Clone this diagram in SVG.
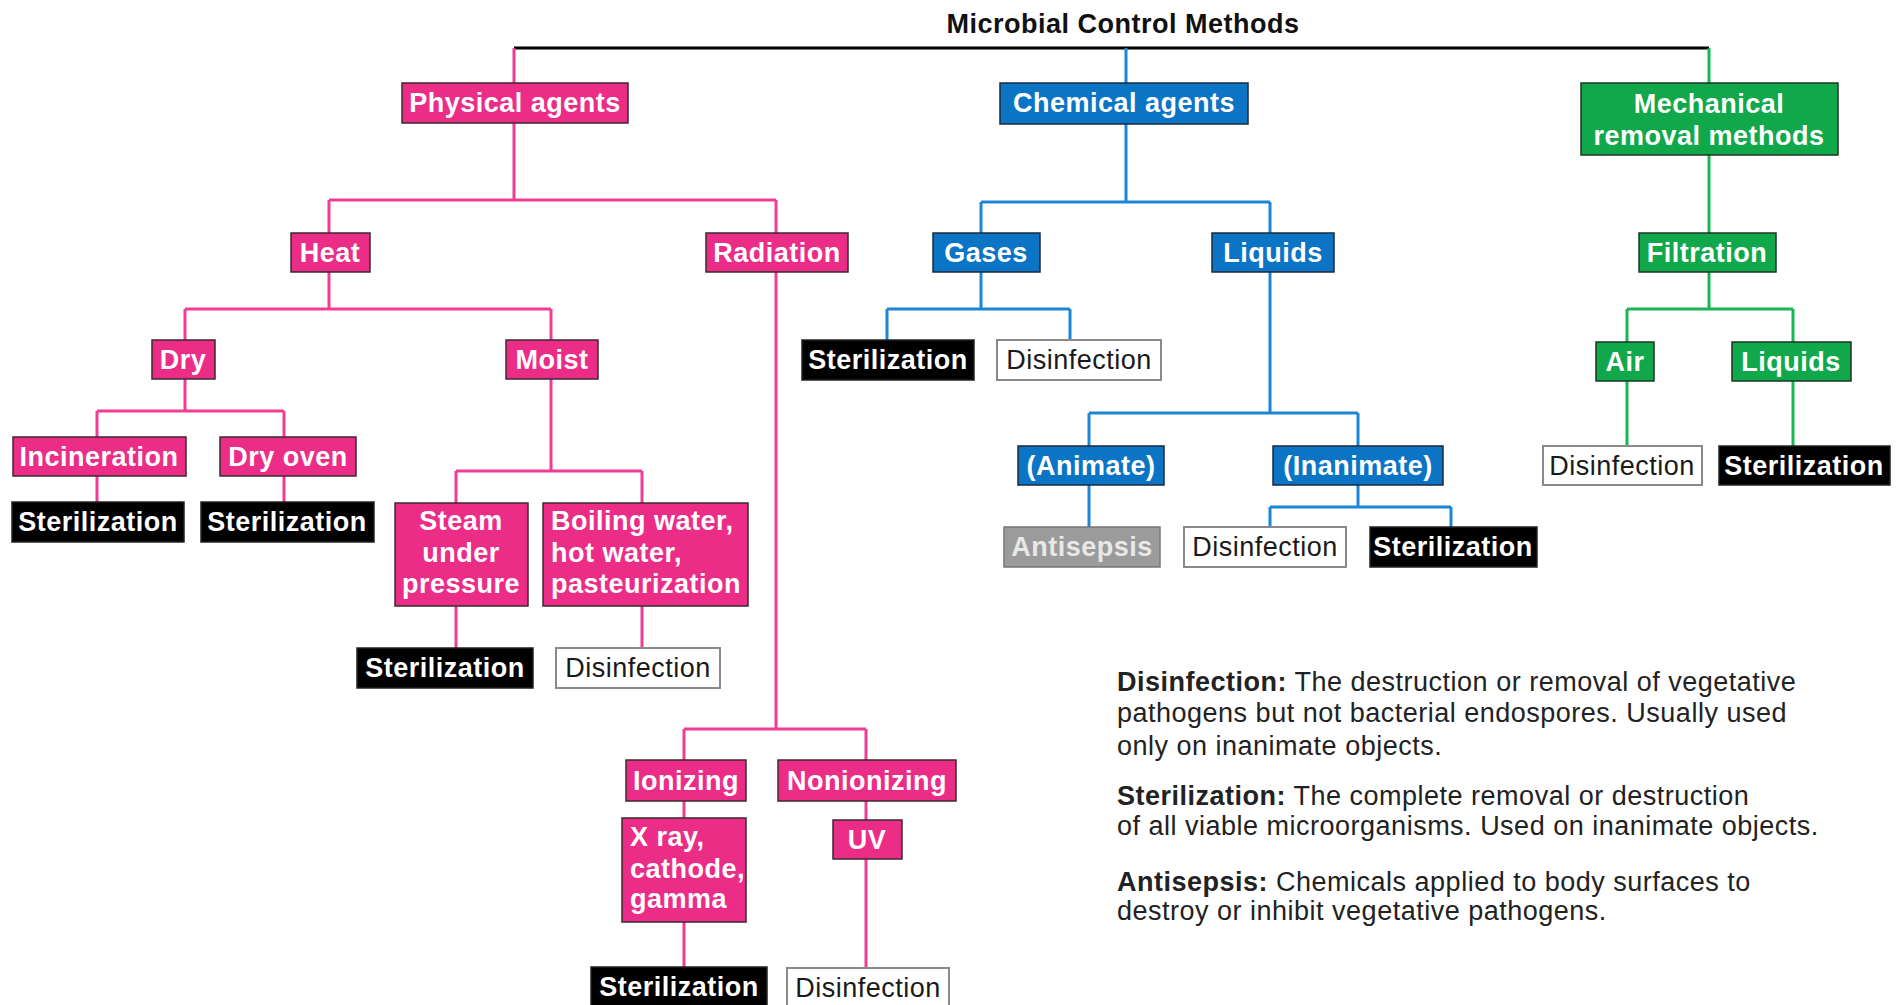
<svg xmlns="http://www.w3.org/2000/svg" width="1902" height="1005" viewBox="0 0 1902 1005">
<style>
text{font-family:"Liberation Sans",Arial,Helvetica,sans-serif;font-size:27px;letter-spacing:0.5px}
.b{font-weight:bold;fill:#fff;text-anchor:middle}
.l{text-anchor:start}
.pk{fill:#EC2D87;stroke:#3a2a30;stroke-width:1.5}
.bl{fill:#0B74C5;stroke:#1d2a3a;stroke-width:1.5}
.gr{fill:#10A84B;stroke:#1c3324;stroke-width:1.5}
.st{fill:#000;stroke:#222;stroke-width:1.5}
.df{fill:#fff;stroke:#8a8a8a;stroke-width:2}
.as{fill:#9B9B9B;stroke:#777;stroke-width:1.5}
.dt{fill:#1a1a1a;text-anchor:middle;font-weight:normal}
.cp{fill:none;stroke:#F03C93;stroke-width:3}
.cb{fill:none;stroke:#1C86D6;stroke-width:3}
.cg{fill:none;stroke:#19B552;stroke-width:3}
.ck{fill:none;stroke:#000;stroke-width:3}
.lg{fill:#222}
.lg tspan.h{font-weight:bold}
</style>
<rect width="1902" height="1005" fill="#fff"/>
<text x="1123" y="33" class="b" style="fill:#111">Microbial Control Methods</text>

<g id="connectors">
<path class="ck" d="M514,48 H1709"/>
<path class="cp" d="M514,48 V83 M514,123 V200 M329,200 H776 M329,200 V233 M776,200 V233 M329,272 V309 M185,309 H551 M185,309 V340 M551,309 V340 M185,379 V411 M97,411 H284 M97,411 V437 M284,411 V437 M97,476 V502 M284,476 V502 M551,379 V471 M456,471 H642 M456,471 V503 M642,471 V503 M456,606 V648 M642,606 V648 M776,272 V729 M684,729 H866 M684,729 V760 M866,729 V760 M684,801 V818 M684,922 V967 M866,801 V820 M866,859 V968"/>
<path class="cb" d="M1126,48 V83 M1126,124 V202 M981,202 H1270 M981,202 V233 M1270,202 V233 M981,272 V309 M887,309 H1070 M887,309 V340 M1070,309 V340 M1270,272 V413 M1089,413 H1358 M1089,413 V446 M1358,413 V446 M1089,485 V527 M1358,485 V507 M1270,507 H1451 M1270,507 V527 M1451,507 V527"/>
<path class="cg" d="M1709,48 V83 M1709,155 V233 M1709,272 V309 M1627,309 H1793 M1627,309 V342 M1793,309 V342 M1627,381 V446 M1793,381 V446"/>
</g>

<g id="physical"><rect class="pk" x="402" y="83" width="226" height="40"/><text class="b" x="515" y="112">Physical agents</text></g>
<g id="chemical"><rect class="bl" x="1000" y="83" width="248" height="41"/><text class="b" x="1124" y="112">Chemical agents</text></g>
<g id="mechanical"><rect class="gr" x="1581" y="83" width="257" height="72"/><text class="b" x="1709" y="113">Mechanical</text><text class="b" x="1709" y="145">removal methods</text></g>

<g id="heat"><rect class="pk" x="291" y="233" width="79" height="39"/><text class="b" x="330" y="262">Heat</text></g>
<g id="radiation"><rect class="pk" x="706" y="233" width="142" height="39"/><text class="b" x="777" y="262">Radiation</text></g>
<g id="gases"><rect class="bl" x="933" y="233" width="107" height="39"/><text class="b" x="986" y="262">Gases</text></g>
<g id="liquids-chem"><rect class="bl" x="1212" y="233" width="122" height="39"/><text class="b" x="1273" y="262">Liquids</text></g>
<g id="filtration"><rect class="gr" x="1639" y="233" width="137" height="39"/><text class="b" x="1707" y="262">Filtration</text></g>

<g id="dry"><rect class="pk" x="152" y="340" width="63" height="39"/><text class="b" x="183" y="369">Dry</text></g>
<g id="moist"><rect class="pk" x="506" y="340" width="92" height="39"/><text class="b" x="552" y="369">Moist</text></g>
<g id="gas-steril"><rect class="st" x="802" y="340" width="172" height="40"/><text class="b" x="888" y="369">Sterilization</text></g>
<g id="gas-disinf"><rect class="df" x="997" y="340" width="164" height="40"/><text class="dt" x="1079" y="369">Disinfection</text></g>
<g id="air"><rect class="gr" x="1596" y="342" width="58" height="39"/><text class="b" x="1625" y="371">Air</text></g>
<g id="liquids-filt"><rect class="gr" x="1732" y="342" width="119" height="39"/><text class="b" x="1791" y="371">Liquids</text></g>

<g id="incineration"><rect class="pk" x="13" y="437" width="173" height="39"/><text class="b" x="99" y="466">Incineration</text></g>
<g id="dry-oven"><rect class="pk" x="220" y="437" width="136" height="39"/><text class="b" x="288" y="466">Dry oven</text></g>
<g id="animate"><rect class="bl" x="1018" y="446" width="146" height="39"/><text class="b" x="1091" y="475">(Animate)</text></g>
<g id="inanimate"><rect class="bl" x="1273" y="446" width="170" height="39"/><text class="b" x="1358" y="475">(Inanimate)</text></g>
<g id="air-disinf"><rect class="df" x="1543" y="446" width="159" height="39"/><text class="dt" x="1622" y="475">Disinfection</text></g>
<g id="liq-steril"><rect class="st" x="1719" y="446" width="171" height="39"/><text class="b" x="1804" y="475">Sterilization</text></g>

<g id="incin-steril"><rect class="st" x="12" y="502" width="172" height="40"/><text class="b" x="98" y="531">Sterilization</text></g>
<g id="oven-steril"><rect class="st" x="201" y="502" width="173" height="40"/><text class="b" x="287" y="531">Sterilization</text></g>
<g id="steam"><rect class="pk" x="395" y="503" width="133" height="103"/><text class="b" x="461" y="530">Steam</text><text class="b" x="461" y="562">under</text><text class="b" x="461" y="593">pressure</text></g>
<g id="boiling"><rect class="pk" x="543" y="503" width="205" height="103"/><text class="b l" x="551" y="530">Boiling water,</text><text class="b l" x="551" y="562">hot water,</text><text class="b l" x="551" y="593">pasteurization</text></g>
<g id="antisepsis"><rect class="as" x="1004" y="527" width="156" height="40"/><text class="b" x="1082" y="556" style="fill:#e8e8e8">Antisepsis</text></g>
<g id="inan-disinf"><rect class="df" x="1184" y="527" width="162" height="40"/><text class="dt" x="1265" y="556">Disinfection</text></g>
<g id="inan-steril"><rect class="st" x="1370" y="527" width="167" height="40"/><text class="b" x="1453" y="556">Sterilization</text></g>

<g id="steam-steril"><rect class="st" x="357" y="648" width="176" height="40"/><text class="b" x="445" y="677">Sterilization</text></g>
<g id="boil-disinf"><rect class="df" x="556" y="648" width="164" height="40"/><text class="dt" x="638" y="677">Disinfection</text></g>

<g id="ionizing"><rect class="pk" x="626" y="760" width="120" height="41"/><text class="b" x="686" y="790">Ionizing</text></g>
<g id="nonionizing"><rect class="pk" x="778" y="760" width="178" height="41"/><text class="b" x="867" y="790">Nonionizing</text></g>
<g id="xray"><rect class="pk" x="622" y="818" width="124" height="104"/><text class="b l" x="630" y="846">X ray,</text><text class="b l" x="630" y="878">cathode,</text><text class="b l" x="630" y="908">gamma</text></g>
<g id="uv"><rect class="pk" x="833" y="820" width="69" height="39"/><text class="b" x="867" y="849">UV</text></g>
<g id="xray-steril"><rect class="st" x="591" y="967" width="176" height="42"/><text class="b" x="679" y="996">Sterilization</text></g>
<g id="uv-disinf"><rect class="df" x="787" y="968" width="162" height="42"/><text class="dt" x="868" y="997">Disinfection</text></g>

<g id="legend">
<text class="lg" x="1117" y="691"><tspan class="h">Disinfection:</tspan> The destruction or removal of vegetative</text>
<text class="lg" x="1117" y="722">pathogens but not bacterial endospores. Usually used</text>
<text class="lg" x="1117" y="755">only on inanimate objects.</text>
<text class="lg" x="1117" y="805"><tspan class="h">Sterilization:</tspan> The complete removal or destruction</text>
<text class="lg" x="1117" y="835">of all viable microorganisms. Used on inanimate objects.</text>
<text class="lg" x="1117" y="891"><tspan class="h">Antisepsis:</tspan> Chemicals applied to body surfaces to</text>
<text class="lg" x="1117" y="920">destroy or inhibit vegetative pathogens.</text>
</g>
</svg>
